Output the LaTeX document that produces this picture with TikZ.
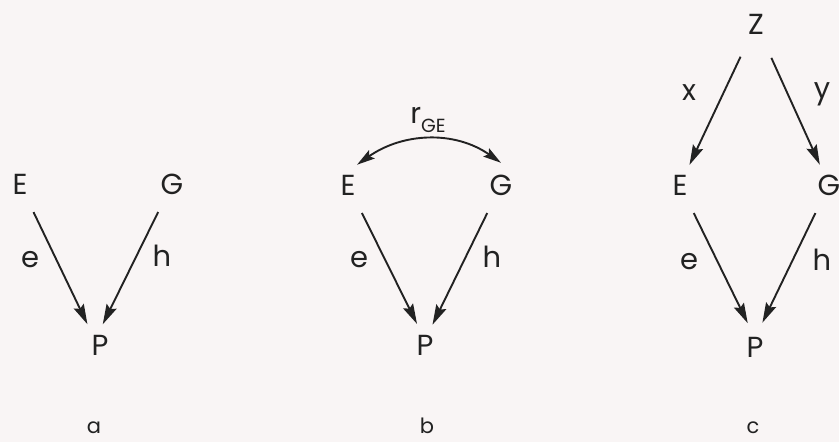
\documentclass[tikz,border=0pt]{standalone}
\usepackage{fontspec}
\setmainfont{Poppins}
\usetikzlibrary{arrows.meta}
\definecolor{bg}{HTML}{F9F5F5}
\definecolor{ink}{HTML}{222222}
\begin{document}
\begin{tikzpicture}[x=1pt,y=-1pt,
  letter/.style={circle,inner sep=0pt,minimum size=44pt,text=ink,font=\fontsize{29}{29}\selectfont},
  lab/.style={inner sep=0pt,text=ink,font=\fontsize{29}{29}\selectfont},
  panellab/.style={inner sep=0pt,text=ink,font=\fontsize{21}{21}\selectfont},
  arr/.style={draw=ink,line width=1.9pt,-{Stealth[length=20pt,width=11pt,inset=3pt]},shorten <=9pt},
  darr/.style={draw=ink,line width=1.9pt,{Stealth[length=18pt,width=10pt,inset=3pt]}-{Stealth[length=18pt,width=10pt,inset=3pt]}}]
\fill[bg] (0,0) rectangle (839,442);
\useasboundingbox (0,0) rectangle (839,442);
% panel a
\node[letter] (Ea) at (20,184) {E};
\node[letter] (Ga) at (172,184) {G};
\node[letter] (Pa) at (100,345) {P};
\coordinate (Pai) at (95,340);
\node[lab] (ea) at (30,260) {e};
\node[lab] (ha) at (162,256) {h};
\node[panellab] (la) at (94,428) {a};
\draw[arr,shorten >=17.5pt] (Ea) -- (Pai);
\draw[arr,shorten >=17.5pt] (Ga) -- (Pai);
% panel b
\node[letter] (Eb) at (348,185) {E};
\node[letter] (Gb) at (501,185) {G};
\node[letter] (Pb) at (425,345) {P};
\coordinate (Pbi) at (425,340);
\node[lab] (eb) at (359,260) {e};
\node[lab] (hb) at (492,257) {h};
\node[panellab] (lb) at (427,426) {b};
\node[lab] (rge) at (428,120) {r\raisebox{-9pt}{\fontsize{19}{19}\selectfont GE}};
\draw[arr,shorten >=18pt] (Eb) -- (Pbi);
\draw[arr,shorten >=17pt] (Gb) -- (Pbi);
\draw[darr] (Eb.66) to[out=35,in=145] (Gb.90);
% panel c
\node[letter] (Z) at (756,24) {Z};
\node[letter] (Ec) at (680,185) {E};
\node[letter] (Gc) at (829,185) {G};
\node[letter] (Pc) at (755,347) {P};
\coordinate (Pci) at (755,338);
\node[lab] (xl) at (689,93) {x};
\node[lab] (yl) at (822,94) {y};
\node[lab] (ec) at (689,262) {e};
\node[lab] (hc) at (822,260) {h};
\node[panellab] (lc) at (753,428) {c};
\draw[arr,shorten <=14pt] (Z) -- (Ec);
\draw[arr,shorten <=15pt] (Z) -- (Gc);
\draw[arr,shorten >=16.5pt] (Ec) -- (Pci);
\draw[arr,shorten >=17pt] (Gc) -- (Pci);
\end{tikzpicture}
\end{document}
